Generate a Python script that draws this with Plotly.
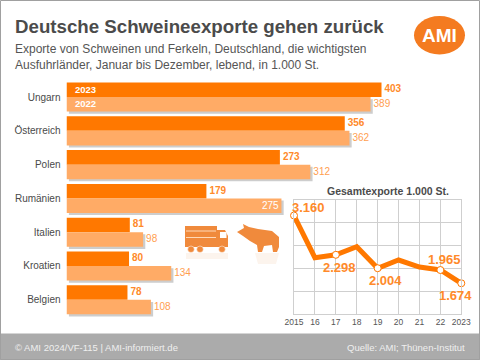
import plotly.graph_objects as go

countries = ["Ungarn", "Österreich", "Polen", "Rumänien", "Italien", "Kroatien", "Belgien"]
v2023 = [403, 356, 273, 179, 81, 80, 78]
v2022 = [389, 362, 312, 275, 98, 134, 108]
years = ["2015", "16", "17", "18", "19", "20", "21", "22", "2023"]
total = [3160, 2235, 2298, 2476, 2004, 2184, 2030, 1965, 1674]
total_labels = {0: "3.160", 2: "2.298", 4: "2.004", 7: "1.965", 8: "1.674"}

W, H = 480, 360
OR = "#FF7800"; LO = "#FFAB66"; TXT = "#FF8A2A"; GR = "#4A4A4A"
SANS = "Liberation Sans"
def px(x): return x / W
def py(y): return 1 - y / H

fig = go.Figure()

X0, PXU = 66.5, 315 / 403
Y0, Y1 = 80.2, 316.6
xr = [0, (W - X0) / PXU]
xr_label = [0, (W - X0 - 3) / PXU]
shift = 2.2

# shadows sit in the first subplot, so the real bars are drawn above them
fig.add_trace(go.Bar(y=countries, x=v2023, orientation="h", xaxis="x", yaxis="y", offsetgroup="a",
                     marker=dict(color="rgba(0,0,0,0)", line_width=0), hoverinfo="skip", showlegend=False))
fig.add_trace(go.Bar(y=countries, x=v2022, orientation="h", xaxis="x", yaxis="y", offsetgroup="b",
                     marker=dict(color="#CDCDCD", line_width=0), hoverinfo="skip", showlegend=False))

fig.add_trace(go.Bar(y=countries, x=v2023, orientation="h", name="2023", offsetgroup="a",
                     marker=dict(color=OR, line_width=0), xaxis="x3", yaxis="y3"))
fig.add_trace(go.Bar(y=countries, x=v2022, orientation="h", name="2022", offsetgroup="b",
                     marker=dict(color=LO, line_width=0), xaxis="x3", yaxis="y3"))

outside_2022 = [i for i in range(7) if i != 3]
fig.add_trace(go.Scatter(y=countries, x=v2023, mode="text", text=[str(v) for v in v2023], textposition="middle right",
                         textfont=dict(family=SANS, size=10, color=TXT, weight="bold"),
                         xaxis="x4", yaxis="y4", showlegend=False, hoverinfo="skip", cliponaxis=False))
fig.add_trace(go.Scatter(y=[countries[i] for i in outside_2022], x=[v2022[i] for i in outside_2022], mode="text",
                         text=[str(v2022[i]) for i in outside_2022], textposition="middle right",
                         textfont=dict(family=SANS, size=10, color="#FF9E50"),
                         xaxis="x5", yaxis="y5", showlegend=False, hoverinfo="skip", cliponaxis=False))

fig.add_trace(go.Scatter(x=years, y=total, mode="lines", line=dict(color=OR, width=5),
                         xaxis="x2", yaxis="y2", showlegend=False, cliponaxis=False))
mi = list(total_labels)
fig.add_trace(go.Scatter(x=[years[i] for i in mi], y=[total[i] for i in mi], mode="markers",
                         marker=dict(color="white", size=7, line=dict(color=OR, width=1)),
                         xaxis="x2", yaxis="y2", showlegend=False, cliponaxis=False))

base_y = dict(type="category", categoryorder="array", categoryarray=countries, range=[6.5, -0.5], automargin=False)
GRID = "#CFCFCF"
fig.update_layout(
    template="none",
    width=W, height=H, margin=dict(l=0, r=0, t=0, b=0, pad=0), autosize=False,
    paper_bgcolor="white", plot_bgcolor="rgba(0,0,0,0)", showlegend=False,
    barmode="group", bargap=0.14, bargroupgap=0,
    xaxis=dict(domain=[px(X0 + shift), 1], range=[0, (W - X0 - shift) / PXU], visible=False, fixedrange=True, automargin=False),
    yaxis=dict(domain=[py(Y1 + shift), py(Y0 + shift)], visible=False, anchor="x", **base_y),
    xaxis3=dict(domain=[px(X0), 1], range=xr, visible=False, anchor="y3", automargin=False),
    yaxis3=dict(domain=[py(Y1), py(Y0)], anchor="x3", showline=False, showgrid=False, zeroline=False,
                ticks="outside", ticklen=3, tickcolor="rgba(0,0,0,0)", tickfont=dict(family=SANS, size=10, color=GR), **base_y),
    xaxis4=dict(domain=[px(X0 + 3), 1], range=xr_label, visible=False, anchor="y4", automargin=False),
    yaxis4=dict(domain=[py(Y1 - 7.3), py(Y0 - 7.3)], visible=False, anchor="x4", **base_y),
    xaxis5=dict(domain=[px(X0 + 3), 1], range=xr_label, visible=False, anchor="y5", automargin=False),
    yaxis5=dict(domain=[py(Y1 + 7.7), py(Y0 + 7.7)], visible=False, anchor="x5", **base_y),
    xaxis2=dict(domain=[px(294), px(461.3)], type="category", categoryorder="array", categoryarray=years,
                range=[0, 8], anchor="y2", showgrid=True, gridcolor=GRID, gridwidth=1, showline=True, automargin=False,
                linecolor=GRID, mirror=True, zeroline=False, ticks="", tickangle=0,
                tickfont=dict(family=SANS, size=8.5, color="#555555"), fixedrange=True),
    yaxis2=dict(domain=[py(314), py(200)], range=[1000, 3500], dtick=500, anchor="x2", showgrid=True, automargin=False,
                gridcolor=GRID, gridwidth=1, showline=True, linecolor=GRID, mirror=True, zeroline=False,
                showticklabels=False, ticks="", fixedrange=True),
)

ann = []
def T(x, y, text, size, color, anchor="left", bold=False, family=SANS):
    ann.append(dict(xref="paper", yref="paper", x=px(x), y=py(y), text=f"<b>{text}</b>" if bold else text, showarrow=False,
                    xanchor=anchor, yanchor="middle", xshift=0, yshift=0, borderpad=0, borderwidth=0,
                    font=dict(family=family, size=size, color=color)))

T(15, 27, "Deutsche Schweineexporte gehen zurück", 18.7, "#4B4B4B", bold=True)
T(15, 49.5, "Exporte von Schweinen und Ferkeln, Deutschland, die wichtigsten", 12, "#555555")
T(15, 65, "Ausfuhrländer, Januar bis Dezember, lebend, in 1.000 St.", 12, "#555555")
T(75, 89.5, "2023", 9.5, "white", bold=True)
T(75, 104, "2022", 9.5, "white", bold=True)
T(279, 205, "275", 10, "white", "right")
T(327, 191, "Gesamtexporte 1.000 St.", 10.5, "#4B4B4B", bold=True)
T(292, 208, total_labels[0], 13, TXT, bold=True)
T(323, 267, total_labels[2], 13, TXT, bold=True)
T(369, 280, total_labels[4], 13, TXT, bold=True)
T(428, 259.5, total_labels[7], 13, TXT, bold=True)
T(439, 295, total_labels[8], 13, TXT, bold=True)
T(15, 347, "© AMI 2024/VF-115 | AMI-informiert.de", 9.5, "#EFEFEF")
T(465, 347, "Quelle: AMI; Thünen-Institut", 9.5, "#EFEFEF", "right")
T(439.5, 35.5, "AMI", 19, "white", "center", bold=True)
fig.update_layout(annotations=ann)

def P(pts):
    return "M" + " L".join(f"{px(x):.5f},{py(y):.5f}" for x, y in pts) + " Z"
def S(**k):
    return dict(xref="paper", yref="paper", **k)

IC = "#F08A3C"
shapes = [
    S(type="rect", x0=0, x1=1, y0=0, y1=py(333.5), fillcolor="#ABABAB", line_width=0, layer="below"),
    S(type="rect", x0=px(0.5), x1=px(479.5), y0=py(359.5), y1=py(0.5), line=dict(color="#A0A0A0", width=1), fillcolor="rgba(0,0,0,0)", layer="above"),
    S(type="circle", x0=px(414), x1=px(465), y0=py(54.5), y1=py(16), fillcolor="#F47B20", line_width=0, layer="below"),
    S(type="rect", x0=px(186), x1=px(228), y0=py(259), y1=py(253), fillcolor="#F4D9C2", opacity=0.3, line_width=0),
    S(type="path", path=P([(185, 226), (217, 226), (217, 230), (225, 230), (228, 236), (228, 247), (185, 247)]), fillcolor=IC, line_width=0),
]
for x in (191, 200, 222):
    shapes.append(S(type="circle", x0=px(x-3.3), x1=px(x+3.3), y0=py(252.5), y1=py(246), fillcolor=IC, line=dict(color="white", width=0.5)))
for y in (231, 237.5):
    shapes.append(S(type="line", x0=px(186), x1=px(216), y0=py(y), y1=py(y), line=dict(color="#FFD9B8", width=1)))
shapes.append(S(type="rect", x0=px(220), x1=px(226.5), y0=py(238), y1=py(232), fillcolor="white", line_width=0))
pig = [(237, 232), (244, 228), (243, 224), (249, 227), (258, 229), (272, 231), (279, 237), (279, 247), (277, 252), (273, 252), (272, 245),
       (264, 246), (262, 252), (258, 252), (257, 245), (250, 241), (243, 236)]
shapes.append(S(type="path", path=P([(255, 253), (279, 253), (276, 264), (258, 264)]), fillcolor="#F4D9C2", opacity=0.3, line_width=0))
shapes.append(S(type="path", path=P(pig), fillcolor=IC, line_width=0))
fig.update_layout(shapes=shapes)

fig.write_html("out.html", config={"displayModeBar": False}, post_script="document.body.style.margin='0';")
